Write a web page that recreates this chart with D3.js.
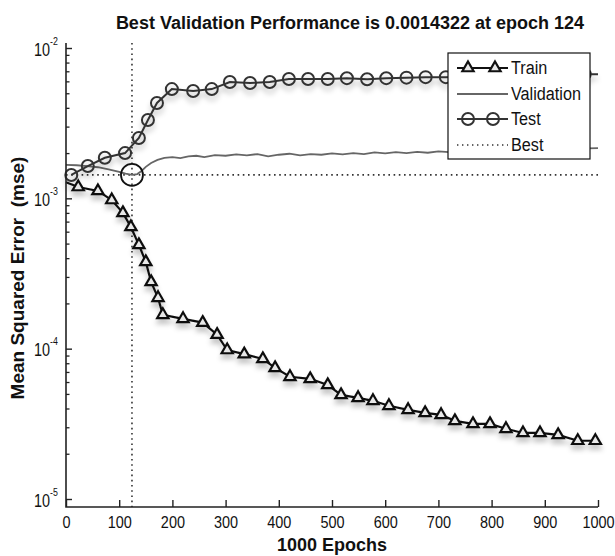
<!DOCTYPE html>
<html>
<head>
<meta charset="utf-8">
<script src="https://cdnjs.cloudflare.com/ajax/libs/d3/7.8.5/d3.min.js"></script>
<style>
  body { margin: 0; background: #fff; }
  svg text { font-family: "Liberation Sans", Arial, sans-serif; fill: #111; }
  svg text.bold { font-weight: bold; white-space: pre; }
</style>
</head>
<body>
<div id="chart"></div>
<script>
(function() {

  // values
  var trainEpoch = [0, 23, 60, 86, 107, 122, 137, 150, 160, 173, 182, 220, 257, 284, 303, 335, 370, 393, 421, 459,
    492, 517, 549, 577, 607, 643, 675, 705, 731, 765, 797, 827, 859, 891, 925, 962, 995];
  var trainMse = [1.28e-3, 1.19e-3, 1.12e-3, 9.75e-4, 8.0e-4, 6.45e-4, 4.9e-4, 3.78e-4, 2.78e-4, 2.18e-4,
    1.68e-4, 1.58e-4, 1.49e-4, 1.24e-4, 9.8e-5, 9.2e-5, 8.55e-5, 7.45e-5, 6.5e-5, 6.3e-5,
    5.74e-5, 4.93e-5, 4.71e-5, 4.5e-5, 4.17e-5, 3.92e-5, 3.74e-5, 3.63e-5, 3.31e-5, 3.16e-5,
    3.16e-5, 2.93e-5, 2.75e-5, 2.75e-5, 2.67e-5, 2.44e-5, 2.44e-5];

  var valEpoch = [0, 20, 40, 60, 80, 100, 112, 124, 134, 142, 150, 160, 172, 185, 200, 215, 230, 245, 260,
    280, 300, 320, 340, 360, 380, 400, 420, 440, 460, 480, 500, 520, 540, 560, 580, 600, 620, 640, 660,
    680, 700, 720, 740, 760, 780, 800, 820, 840, 860, 880, 900, 920, 940, 960, 980, 1000];
  var valMse = [1.67e-3, 1.66e-3, 1.64e-3, 1.61e-3, 1.56e-3, 1.50e-3, 1.46e-3, 1.4322e-3, 1.45e-3, 1.52e-3,
    1.62e-3, 1.72e-3, 1.80e-3, 1.86e-3, 1.88e-3, 1.85e-3, 1.90e-3, 1.92e-3, 1.88e-3,
    1.94e-3, 1.92e-3, 1.96e-3, 1.93e-3, 1.97e-3, 1.90e-3, 1.95e-3, 1.98e-3, 1.93e-3, 1.97e-3,
    1.95e-3, 1.99e-3, 1.96e-3, 2.00e-3, 1.97e-3, 2.02e-3, 1.99e-3, 2.03e-3, 2.00e-3, 2.04e-3,
    2.01e-3, 2.05e-3, 2.03e-3, 2.07e-3, 2.04e-3, 2.08e-3, 2.06e-3, 2.10e-3, 2.07e-3, 2.11e-3,
    2.09e-3, 2.12e-3, 2.10e-3, 2.14e-3, 2.12e-3, 2.15e-3, 2.16e-3];

  var testEpoch = [10, 41, 73, 111, 137, 154, 171, 199, 239, 274, 308, 346, 383, 419, 455, 492, 528, 566, 602, 640,
    676, 714, 750, 788, 825, 862, 900, 938, 975, 1000];
  var testMse = [1.43e-3, 1.64e-3, 1.86e-3, 2.0e-3, 2.52e-3, 3.32e-3, 4.31e-3, 5.33e-3, 5.17e-3, 5.33e-3,
    5.94e-3, 5.85e-3, 5.94e-3, 6.22e-3, 6.22e-3, 6.22e-3, 6.3e-3, 6.2e-3, 6.3e-3, 6.35e-3,
    6.4e-3, 6.4e-3, 6.45e-3, 6.5e-3, 6.5e-3, 6.55e-3, 6.6e-3, 6.65e-3, 6.7e-3, 6.7e-3];

  var bestEpoch = 124, bestMse = 0.0014322;

  var xTicks = [0, 100, 200, 300, 400, 500, 600, 700, 800, 900, 1000];
  var yExps = [-2, -3, -4, -5];
  var legendNames = ["Train", "Validation", "Test", "Best"];
  var titleText = "Best Validation Performance is 0.0014322 at epoch 124";
  var xLabel = "1000 Epochs";
  var yLabel = "Mean Squared Error  (mse)";

  var W = 615, H = 556;
  var left = 66, right = 598, top = 43, bottom = 507;

  // squeeze text a bit, the picture uses a narrow font
  function condense(sel, k) {
    sel.each(function() {
      var w = this.getComputedTextLength();
      d3.select(this).attr("textLength", w * k).attr("lengthAdjust", "spacingAndGlyphs");
    });
  }

  var svg = d3.select("#chart").append("svg")
    .attr("width", W).attr("height", H);

  var defs = svg.append("defs");
  var f = defs.append("filter").attr("id", "shadow")
    .attr("x", "-10%").attr("y", "-10%").attr("width", "130%").attr("height", "140%");
  f.append("feDropShadow").attr("dx", 0).attr("dy", 5).attr("stdDeviation", 2.5)
    .attr("flood-color", "#000").attr("flood-opacity", 0.22);

  var xScale = d3.scaleLinear().domain([0, 1000]).range([left, right]);
  var yScale = d3.scaleLog().domain([1e-5, 1e-2]).range([499, 48]);

  var line = d3.line()
    .x(function(d) { return xScale(d[0]); })
    .y(function(d) { return yScale(d[1]); });

  var train = d3.zip(trainEpoch, trainMse);
  var val = d3.zip(valEpoch, valMse);
  var test = d3.zip(testEpoch, testMse);

  // best lines (dotted)
  svg.append("line")
    .attr("x1", left).attr("x2", right)
    .attr("y1", yScale(bestMse)).attr("y2", yScale(bestMse))
    .attr("stroke", "#333").attr("stroke-width", 1.6).attr("stroke-dasharray", "1.6,3.6");
  svg.append("line")
    .attr("x1", xScale(bestEpoch)).attr("x2", xScale(bestEpoch))
    .attr("y1", top).attr("y2", bottom)
    .attr("stroke", "#333").attr("stroke-width", 1.6).attr("stroke-dasharray", "1.6,3.6");

  // validation
  svg.append("path").datum(val)
    .attr("d", line).attr("fill", "none")
    .attr("stroke", "#666").attr("stroke-width", 1.8);

  // test
  var gTest = svg.append("g").attr("filter", "url(#shadow)");
  gTest.append("path").datum(test)
    .attr("d", line).attr("fill", "none")
    .attr("stroke", "#333").attr("stroke-width", 2);
  gTest.selectAll("circle")
    .data(test.slice(0, test.length - 1))
    .enter().append("circle")
    .attr("cx", function(d) { return xScale(d[0]); })
    .attr("cy", function(d) { return yScale(d[1]); })
    .attr("r", 6)
    .attr("fill", "none").attr("stroke", "#333").attr("stroke-width", 2);

  // train
  var tri = d3.symbol().type(d3.symbolTriangle).size(55);
  var gTrain = svg.append("g").attr("filter", "url(#shadow)");
  gTrain.append("path").datum(train)
    .attr("d", line).attr("fill", "none")
    .attr("stroke", "#111").attr("stroke-width", 2.2);
  gTrain.selectAll(".tri")
    .data(train.slice(1))
    .enter().append("path")
    .attr("class", "tri")
    .attr("transform", function(d) { return "translate(" + xScale(d[0]) + "," + yScale(d[1]) + ")"; })
    .attr("d", tri)
    .attr("fill", "#e8e8e8").attr("stroke", "#111").attr("stroke-width", 2.2);

  // circle round best point
  svg.append("circle")
    .attr("cx", xScale(bestEpoch)).attr("cy", yScale(bestMse))
    .attr("r", 11).attr("fill", "none")
    .attr("stroke", "#111").attr("stroke-width", 1.8);

  // axes
  var xAxis = svg.append("g")
    .attr("transform", "translate(0," + bottom + ")")
    .call(d3.axisBottom(xScale).tickValues(xTicks).tickSize(-7).tickPadding(9).tickFormat(d3.format("d")));
  xAxis.attr("font-family", null);
  xAxis.select(".domain").remove();
  xAxis.selectAll(".tick line").attr("stroke", "#222").attr("stroke-width", 1.4);
  xAxis.selectAll("text").attr("font-size", 17).attr("fill", "#111");
  condense(xAxis.selectAll("text"), 0.85);

  var minorTicks = [];
  yExps.forEach(function(e) {
    if (e === -2) return;
    for (var k = 2; k <= 9; k++) minorTicks.push(k * Math.pow(10, e));
  });

  var yAxis = svg.append("g").attr("transform", "translate(" + left + ",0)");
  yAxis.call(d3.axisLeft(yScale).tickValues(minorTicks).tickSize(-3.5).tickFormat(""));
  yAxis.select(".domain").remove();
  yAxis.selectAll(".tick line").attr("stroke", "#222").attr("stroke-width", 1.3);

  var yMajor = svg.append("g").attr("transform", "translate(" + left + ",0)");
  yMajor.call(d3.axisLeft(yScale).tickValues(yExps.map(function(e) { return Math.pow(10, e); }))
    .tickSize(-6).tickFormat(""));
  yMajor.attr("font-family", null).attr("text-anchor", null);
  yMajor.select(".domain").remove();
  yMajor.selectAll(".tick line").attr("stroke", "#222").attr("stroke-width", 1.4);
  // "10" with the exponent raised, as one text
  yMajor.selectAll(".tick").each(function(d) {
    var t = d3.select(this).append("text")
      .attr("x", -32).attr("y", 7)
      .attr("text-anchor", "start").attr("font-size", 18).attr("fill", "#111");
    t.append("tspan").text("10");
    t.append("tspan").attr("font-size", 11).attr("dy", -11)
      .text(String(Math.round(Math.log10(d))));
    condense(t, 0.8);
  });

  // axis lines
  svg.append("path")
    .attr("d", "M" + left + "," + top + "V" + bottom + "H" + right)
    .attr("fill", "none").attr("stroke", "#222").attr("stroke-width", 1.6);

  // legend
  var lg = svg.append("g").attr("transform", "translate(448,53)");
  lg.append("rect").attr("width", 142).attr("height", 106)
    .attr("fill", "#fff").attr("stroke", "#111").attr("stroke-width", 1.2);
  var rowY = [15, 41, 66, 92];
  legendNames.forEach(function(name, i) {
    var yy = rowY[i];
    var ln = lg.append("line").attr("x1", 9).attr("x2", 60).attr("y1", yy).attr("y2", yy);
    if (i === 0) {
      ln.attr("stroke", "#111").attr("stroke-width", 2.2);
      [20, 47].forEach(function(mx) {
        lg.append("path").attr("transform", "translate(" + mx + "," + yy + ")").attr("d", tri)
          .attr("fill", "#e8e8e8").attr("stroke", "#111").attr("stroke-width", 2.2);
      });
    } else if (i === 1) {
      ln.attr("stroke", "#666").attr("stroke-width", 1.8);
    } else if (i === 2) {
      ln.attr("stroke", "#333").attr("stroke-width", 2);
      [20, 45].forEach(function(mx) {
        lg.append("circle").attr("cx", mx).attr("cy", yy).attr("r", 6)
          .attr("fill", "none").attr("stroke", "#333").attr("stroke-width", 2);
      });
    } else {
      ln.attr("stroke", "#333").attr("stroke-width", 1.4).attr("stroke-dasharray", "1.4,3.6");
    }
    var lt = lg.append("text").attr("x", 63).attr("y", yy + 6).attr("font-size", 18).text(name);
    condense(lt, 0.9);
  });

  // titles
  svg.append("text").attr("class", "bold")
    .attr("x", 350).attr("y", 29).attr("text-anchor", "middle")
    .attr("font-size", 18).text(titleText);
  svg.append("text").attr("class", "bold")
    .attr("x", 332).attr("y", 551).attr("text-anchor", "middle")
    .attr("font-size", 18).text(xLabel);
  svg.append("text").attr("class", "bold")
    .attr("transform", "translate(24,278) rotate(-90)")
    .attr("text-anchor", "middle")
    .attr("font-size", 19).text(yLabel);

})();
</script>
</body>
</html>
